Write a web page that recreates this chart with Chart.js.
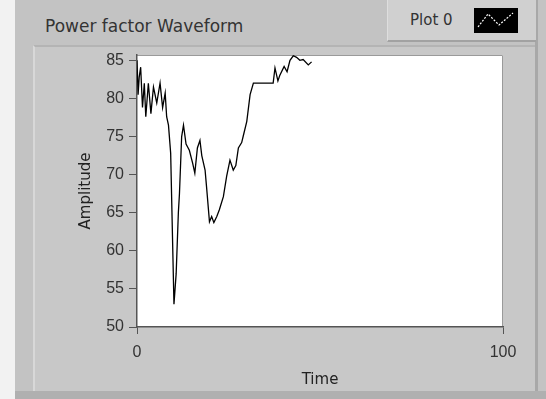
<!DOCTYPE html>
<html><head><meta charset="utf-8">
<script src="https://cdn.jsdelivr.net/npm/chart.js@4"></script>
<style>
html,body{margin:0;padding:0;}
body{width:546px;height:399px;position:relative;overflow:hidden;background:#c3c3c3;font-family:"DejaVu Sans",sans-serif;}
#leftstrip{position:absolute;left:0;top:0;width:15px;height:399px;background:#f2f2f2;}
#panel{position:absolute;left:33px;top:45px;width:500px;height:345px;background:#c8c8c8;border-top:2px solid #b4b4b4;border-left:2px solid #d8d8d8;border-right:3px solid #a9a9a9;}
#bottomband{position:absolute;left:15px;top:391px;width:531px;height:8px;background:#b0b0b0;}
#rightband{position:absolute;left:535px;top:0;width:3px;height:399px;background:#a8a8a8;}
#legend{position:absolute;left:387px;top:0;width:148px;height:40px;background:#d0d0d0;border-bottom:2px solid #a2a2a2;border-left:1px solid #dedede;}
#legtext{position:absolute;left:22px;top:11px;font-size:15px;color:#333;}
#swatch{position:absolute;left:86px;top:8px;width:44px;height:25px;background:#000;}
#title{position:absolute;left:45px;top:16px;font-size:17px;color:#333;white-space:nowrap;}
canvas{position:absolute;left:0;top:0;}
</style>
</head>
<body>
<div id="leftstrip"></div>
<div id="panel"></div>
<div id="rightband"></div>
<div id="bottomband"></div>
<div id="title"></div>
<div id="legend"><span id="legtext"></span><svg id="swatch" viewBox="0 0 44 25"><polyline points="4,19 14,6 25,17 39,5" fill="none" stroke="#fff" stroke-width="1.2" stroke-dasharray="2,1.5"/></svg></div>
<canvas id="c" width="546" height="399"></canvas>
<script>
const chartTitle = 'Power factor Waveform';
const seriesLabel = 'Plot 0';
const xTitle = 'Time';
const yTitle = 'Amplitude';
const times = [0, 0.3, 0.6, 1.0, 1.5, 2.0, 2.4, 3.1, 3.8, 4.5, 5.4, 6.3, 7.0, 7.7, 8.1, 8.6, 9.2, 10.1, 10.7, 11.3, 11.6, 12.2, 12.7, 13.4, 14.3, 15.2, 15.8, 16.5, 17.2, 17.7, 18.6, 19.0, 19.8, 20.4, 21.0, 21.8, 22.5, 23.6, 24.5, 25.4, 26.3, 27.0, 27.7, 28.6, 29.0, 30.0, 30.9, 31.8, 37.2, 37.7, 38.5, 39.0, 40.2, 41.0, 41.8, 42.7, 43.6, 44.5, 45.4, 46.8, 47.7];
const values = [85, 80.5, 82.8, 84.1, 78.8, 82, 77.6, 82, 78, 81.5, 79.4, 82, 78.8, 80.7, 77.6, 76.5, 72.8, 53, 57, 65, 67.5, 75, 76.5, 74, 73.2, 71.5, 70.2, 73.5, 74.5, 72.5, 70.6, 68.4, 63.8, 64.5, 63.7, 64.5, 65.4, 67.1, 69.8, 71.9, 70.6, 71.2, 73.5, 74.2, 75, 77, 80.5, 82, 82, 84, 82.3, 83, 84.2, 83.5, 85, 85.6, 85.4, 85, 85.1, 84.4, 84.8];
const yTicks = [50, 55, 60, 65, 70, 75, 80, 85];
const xTicks = [0, 100];

document.getElementById('title').textContent = chartTitle;
document.getElementById('legtext').textContent = seriesLabel;

const tickFont = {family: "'Liberation Sans', sans-serif", size: 16};
const axisTitleFont = {family: "'DejaVu Sans', sans-serif", size: 15};

const plotBg = {
  id: 'plotBg',
  beforeDraw(chart) {
    const {ctx, chartArea: a} = chart;
    ctx.save();
    ctx.fillStyle = '#ffffff';
    ctx.fillRect(a.left, a.top, a.right - a.left, a.bottom - a.top);
    ctx.strokeStyle = '#9a9a9a';
    ctx.lineWidth = 1;
    ctx.beginPath();
    ctx.moveTo(a.left, a.top + 0.5); ctx.lineTo(a.right - 0.5, a.top + 0.5); ctx.lineTo(a.right - 0.5, a.bottom);
    ctx.stroke();
    ctx.restore();
  }
};

new Chart(document.getElementById('c'), {
  type: 'line',
  data: {
    datasets: [{
      label: seriesLabel,
      data: times.map((t, i) => ({x: t, y: values[i]})),
      borderColor: '#000',
      borderWidth: 1.3,
      pointRadius: 0,
      tension: 0,
      fill: false
    }]
  },
  plugins: [plotBg],
  options: {
    responsive: false,
    animation: false,
    events: [],
    layout: {padding: {left: 0, top: 55, right: 43, bottom: 0}},
    plugins: {legend: {display: false}, title: {display: false}, tooltip: {enabled: false}},
    scales: {
      x: {
        type: 'linear', min: 0, max: 100,
        afterBuildTicks: s => { s.ticks = xTicks.map(v => ({value: v})); },
        afterFit: s => { s.height = 72; },
        ticks: {color: '#333', font: tickFont, padding: 9, maxRotation: 0},
        grid: {drawOnChartArea: false, drawTicks: true, tickLength: 7, color: '#555'},
        border: {display: true, color: '#555', width: 1.5},
        title: {display: true, text: xTitle, color: '#222', font: axisTitleFont, padding: {top: 0, bottom: 10}}
      },
      y: {
        type: 'linear', min: 50, max: 85.7,
        afterBuildTicks: s => { s.ticks = yTicks.map(v => ({value: v})); },
        afterFit: s => { s.width = 137; },
        ticks: {color: '#333', font: tickFont, padding: 5},
        grid: {drawOnChartArea: false, drawTicks: true, tickLength: 8, color: '#555'},
        border: {display: true, color: '#555', width: 1.5},
        title: {display: true, text: yTitle, color: '#222', font: axisTitleFont, padding: {top: 77, bottom: 0}}
      }
    }
  }
});
</script>
</body></html>
